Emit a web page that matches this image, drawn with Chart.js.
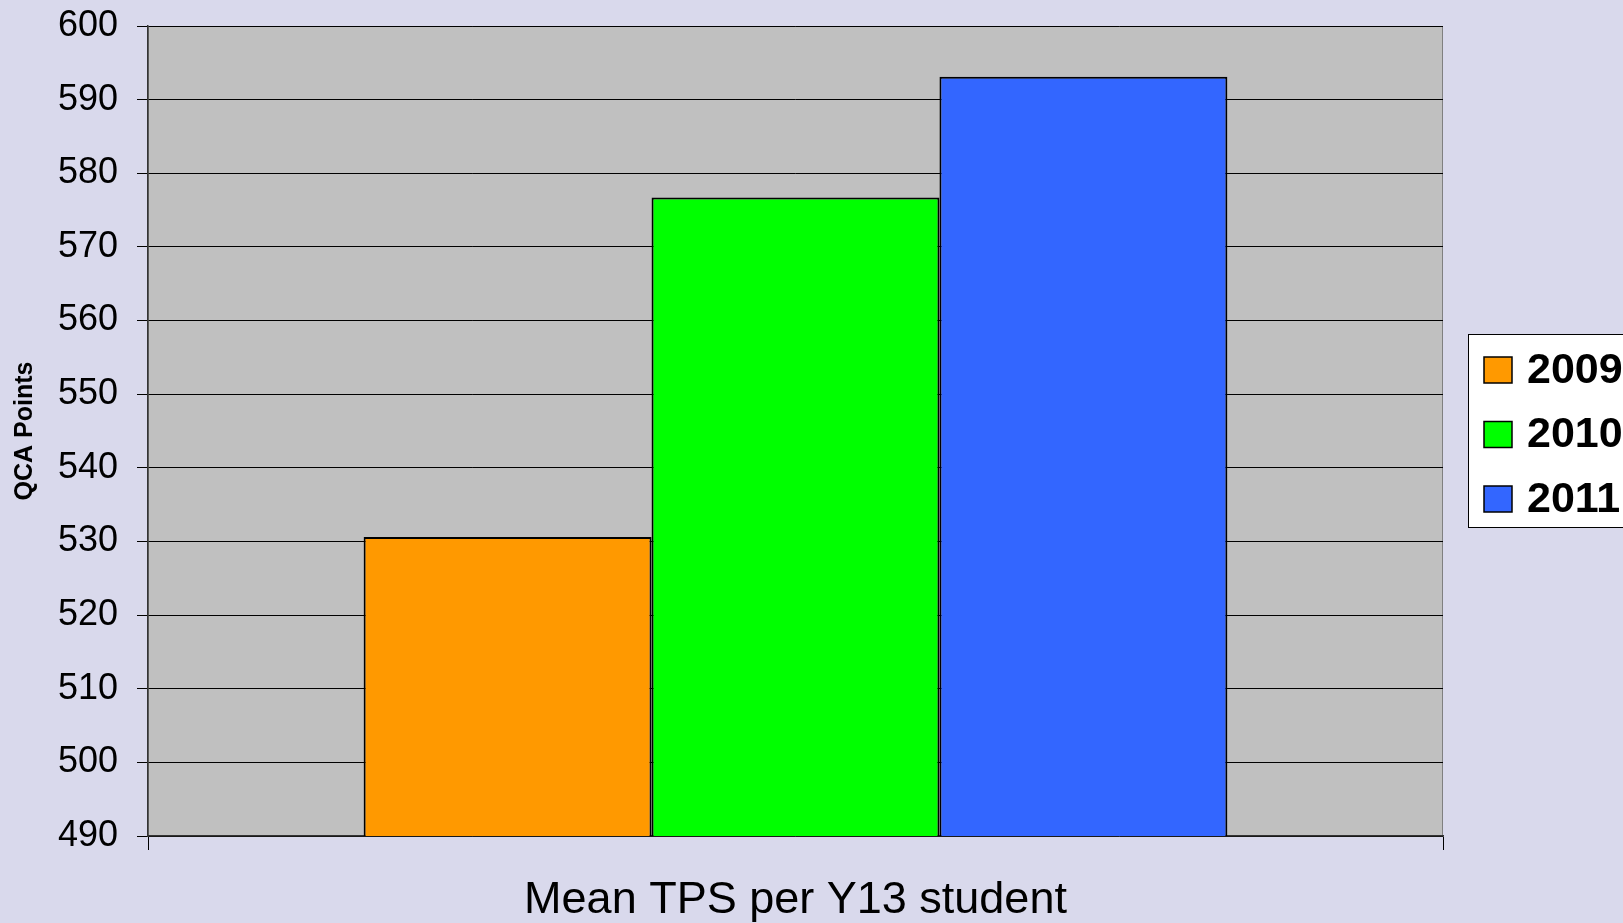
<!DOCTYPE html>
<html>
<head>
<meta charset="utf-8">
<script src="https://cdn.jsdelivr.net/npm/chart.js@4"></script>
<style>
  html, body { margin: 0; padding: 0; background: #D9D9EC; }
  #wrap { width: 1623px; height: 923px; }
</style>
</head>
<body>
<div id="wrap"><canvas id="tpsChart" width="1623" height="923"></canvas></div>
<script>
const categories = [''];
const years = ['2009', '2010', '2011'];
const meanTps = [530.6, 576.7, 593.1];
const barColors = ['#FF9900', '#00FF00', '#3366FF'];
const yTicks = [490, 500, 510, 520, 530, 540, 550, 560, 570, 580, 590, 600];

const FONT = "'Liberation Sans', Arial, sans-serif";

// grey plot area on lavender page
const plotBg = {
    id: 'plotBg',
    beforeDraw(chart) {
        const { ctx, chartArea: a } = chart;
        ctx.save();
        ctx.fillStyle = '#D9D9EC';
        ctx.fillRect(0, 0, chart.width, chart.height);
        ctx.fillStyle = '#C0C0C0';
        ctx.fillRect(a.left, a.top, a.right - a.left, a.bottom - a.top);
        ctx.strokeStyle = '#808080';
        ctx.lineWidth = 1;
        ctx.strokeRect(a.left + 0.5, a.top + 0.5, a.right - a.left - 1, a.bottom - a.top - 1);
        ctx.restore();
    }
};

// boxed legend on the right, as in the original
const boxLegend = {
    id: 'boxLegend',
    afterDraw(chart) {
        const { ctx } = chart;
        ctx.save();
        ctx.fillStyle = '#FFFFFF';
        ctx.fillRect(1468, 334, 200, 194);
        ctx.strokeStyle = '#000000';
        ctx.lineWidth = 1;
        ctx.strokeRect(1468.5, 334.5, 200, 193);
        const rows = [370, 434.5, 499];
        ctx.font = 'bold 43px ' + FONT;
        ctx.textBaseline = 'middle';
        ctx.textAlign = 'left';
        chart.data.datasets.forEach((ds, i) => {
            const y = rows[i];
            ctx.fillStyle = ds.backgroundColor;
            ctx.fillRect(1484, y - 13, 28, 26);
            ctx.lineWidth = 1.5;
            ctx.strokeStyle = '#000000';
            ctx.strokeRect(1484, y - 13, 28, 26);
            ctx.fillStyle = '#000000';
            ctx.fillText(ds.label, 1527, y + 1);
        });
        ctx.restore();
    }
};

new Chart(document.getElementById('tpsChart').getContext('2d'), {
    type: 'bar',
    data: {
        labels: categories,
        datasets: years.map((year, i) => ({
            label: year,
            data: [meanTps[i]],
            backgroundColor: barColors[i],
            borderColor: '#000000',
            borderWidth: 2,
            categoryPercentage: 0.667,
            barPercentage: 1.0
        }))
    },
    options: {
        responsive: false,
        animation: false,
        layout: { padding: { top: 26, right: 180, left: 0, bottom: 0 } },
        plugins: {
            legend: { display: false },
            tooltip: { enabled: false }
        },
        scales: {
            x: {
                afterFit: scale => {
                    scale.height = 87;
                    scale.paddingLeft = 0;
                    scale.paddingRight = 0;
                },
                grid: {
                    offset: true,
                    drawOnChartArea: false,
                    drawTicks: true,
                    tickLength: 14,
                    color: '#000000'
                },
                border: { color: '#333333', width: 1.5 },
                ticks: { display: false },
                title: {
                    display: true,
                    text: 'Mean TPS per Y13 student',
                    color: '#000000',
                    font: { family: FONT, size: 45, lineHeight: 1 },
                    padding: { top: 0, bottom: 0 }
                }
            },
            y: {
                min: 490,
                max: 600,
                afterFit: scale => {
                    scale.width = 148;
                    scale.paddingTop = 0;
                    scale.paddingBottom = 0;
                },
                afterBuildTicks: scale => { scale.ticks = yTicks.map(v => ({ value: v })); },
                grid: {
                    color: '#000000',
                    lineWidth: 1,
                    tickLength: 11
                },
                border: { color: '#333333', width: 1.5 },
                ticks: {
                    color: '#000000',
                    padding: 19,
                    font: { family: FONT, size: 36 }
                },
                title: {
                    display: true,
                    text: 'QCA Points',
                    color: '#000000',
                    font: { family: FONT, size: 25, weight: 'bold' },
                    padding: { top: 10, bottom: 0 }
                }
            }
        }
    },
    plugins: [plotBg, boxLegend]
});
</script>
</body>
</html>
